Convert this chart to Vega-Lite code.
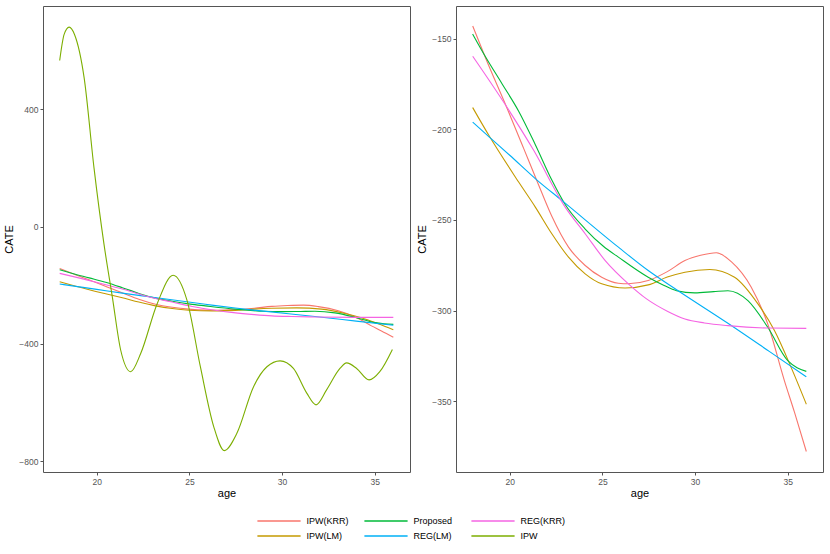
{
  "$schema": "https://vega.github.io/schema/vega-lite/v6.json",
  "padding": {"left": 3, "top": 5, "right": 6, "bottom": 0},
  "background": "white",
  "datasets": {
    "curves": [
      {"method": "IPW(KRR)", "age": 18, "CATE": -143},
      {"method": "IPW(KRR)", "age": 18.69, "CATE": -160.5},
      {"method": "IPW(KRR)", "age": 19.86, "CATE": -188.5},
      {"method": "IPW(KRR)", "age": 20.75, "CATE": -210.5},
      {"method": "IPW(KRR)", "age": 21.47, "CATE": -228.5},
      {"method": "IPW(KRR)", "age": 22.27, "CATE": -248},
      {"method": "IPW(KRR)", "age": 23.17, "CATE": -265},
      {"method": "IPW(KRR)", "age": 24.07, "CATE": -275.1},
      {"method": "IPW(KRR)", "age": 24.96, "CATE": -281.6},
      {"method": "IPW(KRR)", "age": 25.86, "CATE": -284.9},
      {"method": "IPW(KRR)", "age": 26.4, "CATE": -285.2},
      {"method": "IPW(KRR)", "age": 27.47, "CATE": -283.4},
      {"method": "IPW(KRR)", "age": 28.5, "CATE": -278.5},
      {"method": "IPW(KRR)", "age": 29.45, "CATE": -272.4},
      {"method": "IPW(KRR)", "age": 30.3, "CATE": -269.5},
      {"method": "IPW(KRR)", "age": 31.15, "CATE": -268.1},
      {"method": "IPW(KRR)", "age": 31.95, "CATE": -273},
      {"method": "IPW(KRR)", "age": 33.03, "CATE": -287.1},
      {"method": "IPW(KRR)", "age": 33.92, "CATE": -307.4},
      {"method": "IPW(KRR)", "age": 34.82, "CATE": -338.7},
      {"method": "IPW(KRR)", "age": 35.36, "CATE": -356},
      {"method": "IPW(KRR)", "age": 36, "CATE": -377.7},

      {"method": "IPW(LM)", "age": 18, "CATE": -188},
      {"method": "IPW(LM)", "age": 18.87, "CATE": -203.3},
      {"method": "IPW(LM)", "age": 20.48, "CATE": -229.1},
      {"method": "IPW(LM)", "age": 21.38, "CATE": -242.9},
      {"method": "IPW(LM)", "age": 22.27, "CATE": -257.6},
      {"method": "IPW(LM)", "age": 23.17, "CATE": -270.5},
      {"method": "IPW(LM)", "age": 24.07, "CATE": -279.7},
      {"method": "IPW(LM)", "age": 24.96, "CATE": -285.2},
      {"method": "IPW(LM)", "age": 26.22, "CATE": -287.5},
      {"method": "IPW(LM)", "age": 27.47, "CATE": -285.8},
      {"method": "IPW(LM)", "age": 28.5, "CATE": -281.5},
      {"method": "IPW(LM)", "age": 29.45, "CATE": -278.8},
      {"method": "IPW(LM)", "age": 30.79, "CATE": -277.3},
      {"method": "IPW(LM)", "age": 32.13, "CATE": -281.6},
      {"method": "IPW(LM)", "age": 33.39, "CATE": -296.3},
      {"method": "IPW(LM)", "age": 34.28, "CATE": -311},
      {"method": "IPW(LM)", "age": 35.18, "CATE": -331.3},
      {"method": "IPW(LM)", "age": 36, "CATE": -351.6},

      {"method": "Proposed", "age": 18, "CATE": -147.5},
      {"method": "Proposed", "age": 18.69, "CATE": -160},
      {"method": "Proposed", "age": 19.59, "CATE": -175},
      {"method": "Proposed", "age": 20.48, "CATE": -190},
      {"method": "Proposed", "age": 21.38, "CATE": -208.5},
      {"method": "Proposed", "age": 22.27, "CATE": -228},
      {"method": "Proposed", "age": 22.99, "CATE": -241.5},
      {"method": "Proposed", "age": 24.07, "CATE": -255},
      {"method": "Proposed", "age": 25.05, "CATE": -264.5},
      {"method": "Proposed", "age": 25.86, "CATE": -270.5},
      {"method": "Proposed", "age": 27.47, "CATE": -281.6},
      {"method": "Proposed", "age": 28.3, "CATE": -286},
      {"method": "Proposed", "age": 29.0, "CATE": -289},
      {"method": "Proposed", "age": 29.98, "CATE": -290.2},
      {"method": "Proposed", "age": 31.0, "CATE": -289.5},
      {"method": "Proposed", "age": 31.77, "CATE": -289},
      {"method": "Proposed", "age": 32.85, "CATE": -294.5},
      {"method": "Proposed", "age": 33.92, "CATE": -309.2},
      {"method": "Proposed", "age": 35.0, "CATE": -327.6},
      {"method": "Proposed", "age": 35.5, "CATE": -331.5},
      {"method": "Proposed", "age": 36, "CATE": -333.5},

      {"method": "REG(LM)", "age": 18, "CATE": -196},
      {"method": "REG(LM)", "age": 18.87, "CATE": -204},
      {"method": "REG(LM)", "age": 20.0, "CATE": -214.3},
      {"method": "REG(LM)", "age": 21.47, "CATE": -228},
      {"method": "REG(LM)", "age": 22.81, "CATE": -239.2},
      {"method": "REG(LM)", "age": 25.86, "CATE": -265},
      {"method": "REG(LM)", "age": 27.47, "CATE": -277.9},
      {"method": "REG(LM)", "age": 29.0, "CATE": -288.5},
      {"method": "REG(LM)", "age": 31.77, "CATE": -307},
      {"method": "REG(LM)", "age": 34.0, "CATE": -322.5},
      {"method": "REG(LM)", "age": 36, "CATE": -336.5},

      {"method": "REG(KRR)", "age": 18, "CATE": -159.7},
      {"method": "REG(KRR)", "age": 19.86, "CATE": -188},
      {"method": "REG(KRR)", "age": 21.29, "CATE": -211.6},
      {"method": "REG(KRR)", "age": 22.99, "CATE": -242.9},
      {"method": "REG(KRR)", "age": 24.07, "CATE": -257.6},
      {"method": "REG(KRR)", "age": 25.15, "CATE": -272.4},
      {"method": "REG(KRR)", "age": 26.4, "CATE": -285.2},
      {"method": "REG(KRR)", "age": 27.38, "CATE": -293.5},
      {"method": "REG(KRR)", "age": 28.5, "CATE": -300.3},
      {"method": "REG(KRR)", "age": 29.45, "CATE": -304.6},
      {"method": "REG(KRR)", "age": 30.5, "CATE": -306.8},
      {"method": "REG(KRR)", "age": 31.77, "CATE": -308.3},
      {"method": "REG(KRR)", "age": 33.92, "CATE": -309.6},
      {"method": "REG(KRR)", "age": 36, "CATE": -309.8},

      {"method": "IPW", "age": 18, "CATE": 566},
      {"method": "IPW", "age": 18.24, "CATE": 655},
      {"method": "IPW", "age": 18.51, "CATE": 680},
      {"method": "IPW", "age": 18.8, "CATE": 655},
      {"method": "IPW", "age": 19.32, "CATE": 507},
      {"method": "IPW", "age": 19.85, "CATE": 201},
      {"method": "IPW", "age": 20.39, "CATE": -60},
      {"method": "IPW", "age": 20.84, "CATE": -240},
      {"method": "IPW", "age": 21.29, "CATE": -421},
      {"method": "IPW", "age": 21.83, "CATE": -495},
      {"method": "IPW", "age": 22.37, "CATE": -433},
      {"method": "IPW", "age": 23.26, "CATE": -263},
      {"method": "IPW", "age": 24.12, "CATE": -166},
      {"method": "IPW", "age": 24.87, "CATE": -252},
      {"method": "IPW", "age": 25.59, "CATE": -478},
      {"method": "IPW", "age": 26.31, "CATE": -682},
      {"method": "IPW", "age": 26.88, "CATE": -764},
      {"method": "IPW", "age": 27.56, "CATE": -705},
      {"method": "IPW", "age": 28.46, "CATE": -546},
      {"method": "IPW", "age": 29.18, "CATE": -478},
      {"method": "IPW", "age": 29.89, "CATE": -458},
      {"method": "IPW", "age": 30.61, "CATE": -484},
      {"method": "IPW", "age": 31.33, "CATE": -568},
      {"method": "IPW", "age": 31.83, "CATE": -608},
      {"method": "IPW", "age": 32.4, "CATE": -557},
      {"method": "IPW", "age": 33.12, "CATE": -484},
      {"method": "IPW", "age": 33.48, "CATE": -465},
      {"method": "IPW", "age": 34.02, "CATE": -484},
      {"method": "IPW", "age": 34.69, "CATE": -523},
      {"method": "IPW", "age": 35.27, "CATE": -495},
      {"method": "IPW", "age": 35.95, "CATE": -419}
    ]
  },
  "data": {"name": "curves"},
  "spacing": 5,
  "hconcat": [
    {
      "width": 367,
      "height": 466,
      "mark": {"type": "line", "interpolate": "monotone", "strokeWidth": 1.1},
      "encoding": {
        "x": {"field": "age", "type": "quantitative", "scale": {"domain": [17.1, 36.9], "nice": false, "zero": false}, "axis": {"values": [20, 25, 30, 35], "title": "age"}},
        "y": {"field": "CATE", "type": "quantitative", "scale": {"domain": [-837, 752], "nice": false, "zero": false}, "axis": {"values": [-800, -400, 0, 400], "title": "CATE"}},
        "color": {
          "field": "method", "type": "nominal",
          "scale": {"domain": ["IPW(KRR)", "Proposed", "REG(KRR)", "IPW(LM)", "REG(LM)", "IPW"], "range": ["#F8766D", "#00BA38", "#F564E3", "#C49A00", "#00B0F6", "#7CAE00"]},
          "legend": {"orient": "none", "legendX": 229, "legendY": 508, "direction": "horizontal", "columns": 3, "title": null}
        }
      }
    },
    {
      "width": 367,
      "height": 466,
      "transform": [{"filter": "datum.method !== 'IPW'"}],
      "mark": {"type": "line", "interpolate": "monotone", "strokeWidth": 1.1},
      "encoding": {
        "x": {"field": "age", "type": "quantitative", "scale": {"domain": [17.1, 36.9], "nice": false, "zero": false}, "axis": {"values": [20, 25, 30, 35], "title": "age"}},
        "y": {"field": "CATE", "type": "quantitative", "scale": {"domain": [-389, -132], "nice": false, "zero": false}, "axis": {"values": [-350, -300, -250, -200, -150], "title": "CATE"}},
        "color": {"field": "method", "type": "nominal"}
      }
    }
  ],
  "resolve": {"scale": {"y": "independent", "x": "independent"}},
  "config": {
    "font": "Liberation Sans",
    "view": {"stroke": "#555555", "strokeWidth": 1},
    "axis": {
      "domain": false, "grid": false,
      "tickColor": "#555555", "tickSize": 3, "tickWidth": 1,
      "labelFont": "Liberation Sans", "labelFontSize": 8.5, "labelColor": "#555555", "labelPadding": 2,
      "titleFont": "Liberation Sans", "titleFontSize": 11, "titleFontWeight": "normal", "titleColor": "#000000"
    },
    "axisX": {"titlePadding": 2},
    "axisY": {"titlePadding": 4},
    "legend": {
      "symbolType": "M-3.6,0H3.6", "symbolSize": 144, "symbolStrokeWidth": 1.5,
      "labelFont": "Liberation Sans", "labelFontSize": 9, "labelColor": "#000000",
      "labelOffset": 20.6, "columnPadding": 9, "rowPadding": 3, "gridAlign": "all"
    }
  }
}
